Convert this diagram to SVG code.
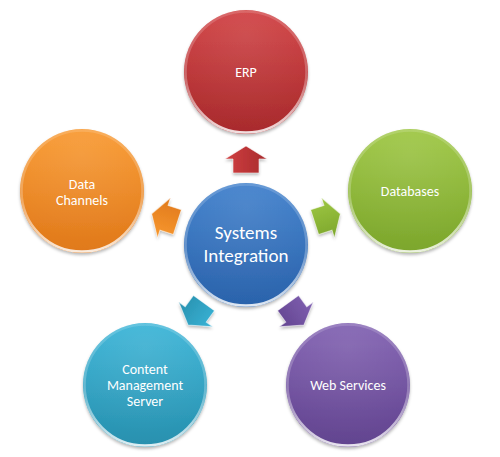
<svg xmlns="http://www.w3.org/2000/svg" xmlns:xlink="http://www.w3.org/1999/xlink" width="500" height="457" viewBox="0 0 500 457">
<style>
  .lbl { font-family: Carlito, Calibri, Lato, "Liberation Sans", sans-serif; fill: #ffffff; text-anchor: middle; font-size: 14px; }
  .big { font-size: 19px; }
  .rim { fill: none; stroke: url(#rimG); stroke-width: 2.5; }
  .gloss { fill: url(#glossG); }
  .arr-rim { fill: none; stroke: #ffffff; stroke-opacity: 0.55; stroke-width: 1; }
</style>
<defs>
  <filter id="sh" x="-20%" y="-20%" width="140%" height="140%">
    <feDropShadow dx="0" dy="2" stdDeviation="1.6" flood-color="#000" flood-opacity="0.28"/>
  </filter>
  <linearGradient id="rimG" x1="0" y1="0" x2="0" y2="1">
    <stop offset="0" stop-color="#fff" stop-opacity="0.15"/>
    <stop offset="0.55" stop-color="#fff" stop-opacity="0.25"/>
    <stop offset="1" stop-color="#fff" stop-opacity="0.85"/>
  </linearGradient>
  <radialGradient id="glossG" cx="0.5" cy="0.2" r="0.7">
    <stop offset="0" stop-color="#fff" stop-opacity="0.1"/>
    <stop offset="1" stop-color="#fff" stop-opacity="0"/>
  </radialGradient>
  <linearGradient id="gRed" x1="0" y1="0" x2="0" y2="1">
    <stop offset="0" stop-color="#d03f41"/><stop offset="1" stop-color="#a82b2d"/>
  </linearGradient>
  <linearGradient id="gBlue" x1="0" y1="0" x2="0" y2="1">
    <stop offset="0" stop-color="#3d7ecb"/><stop offset="1" stop-color="#2b63ab"/>
  </linearGradient>
  <linearGradient id="gGreen" x1="0" y1="0" x2="0" y2="1">
    <stop offset="0" stop-color="#9dc642"/><stop offset="1" stop-color="#7ca62c"/>
  </linearGradient>
  <linearGradient id="gOrange" x1="0" y1="0" x2="0" y2="1">
    <stop offset="0" stop-color="#f8982f"/><stop offset="1" stop-color="#e0791b"/>
  </linearGradient>
  <linearGradient id="gTeal" x1="0" y1="0" x2="0" y2="1">
    <stop offset="0" stop-color="#3ab4d7"/><stop offset="1" stop-color="#2890ae"/>
  </linearGradient>
  <linearGradient id="gPurple" x1="0" y1="0" x2="0" y2="1">
    <stop offset="0" stop-color="#8060b1"/><stop offset="1" stop-color="#62448f"/>
  </linearGradient>
  <path id="arrow" d="M -13.5,-13 L 0.5,-13 L 0.5,-21 L 13.5,0 L 0.5,21 L 0.5,13 L -13.5,13 Z"/>
</defs>

<g id="connectors">
  <g filter="url(#sh)">
    <use xlink:href="#arrow" transform="translate(246,159.5) rotate(-90)" fill="url(#gRed)"/>
    <use xlink:href="#arrow" transform="translate(327.5,218) rotate(-18)" fill="url(#gGreen)"/>
    <use xlink:href="#arrow" transform="translate(296,314) rotate(54)" fill="url(#gPurple)"/>
    <use xlink:href="#arrow" transform="translate(196,314) rotate(126)" fill="url(#gTeal)"/>
    <use xlink:href="#arrow" transform="translate(164.5,218) rotate(198)" fill="url(#gOrange)"/>
  </g>
  <use xlink:href="#arrow" class="arr-rim" transform="translate(246,159.5) rotate(-90)"/>
  <use xlink:href="#arrow" class="arr-rim" transform="translate(327.5,218) rotate(-18)"/>
  <use xlink:href="#arrow" class="arr-rim" transform="translate(296,314) rotate(54)"/>
  <use xlink:href="#arrow" class="arr-rim" transform="translate(196,314) rotate(126)"/>
  <use xlink:href="#arrow" class="arr-rim" transform="translate(164.5,218) rotate(198)"/>
</g>

<g id="node-center">
  <circle cx="246" cy="245" r="62" fill="url(#gBlue)" filter="url(#sh)"/>
  <circle cx="246" cy="245" r="62" class="gloss"/>
  <circle cx="246" cy="245" r="60.5" class="rim"/>
  <text class="lbl big" x="246" y="239">Systems</text>
  <text class="lbl big" x="246" y="262">Integration</text>
</g>

<g id="node-erp">
  <circle cx="246" cy="72" r="62" fill="url(#gRed)" filter="url(#sh)"/>
  <circle cx="246" cy="72" r="62" class="gloss"/>
  <circle cx="246" cy="72" r="60.5" class="rim"/>
  <text class="lbl" x="246" y="77">ERP</text>
</g>

<g id="node-databases">
  <circle cx="410" cy="191" r="62" fill="url(#gGreen)" filter="url(#sh)"/>
  <circle cx="410" cy="191" r="62" class="gloss"/>
  <circle cx="410" cy="191" r="60.5" class="rim"/>
  <text class="lbl" x="410" y="196">Databases</text>
</g>

<g id="node-webservices">
  <circle cx="348" cy="385" r="62" fill="url(#gPurple)" filter="url(#sh)"/>
  <circle cx="348" cy="385" r="62" class="gloss"/>
  <circle cx="348" cy="385" r="60.5" class="rim"/>
  <text class="lbl" x="348" y="390">Web Services</text>
</g>

<g id="node-cms">
  <circle cx="145" cy="385" r="62" fill="url(#gTeal)" filter="url(#sh)"/>
  <circle cx="145" cy="385" r="62" class="gloss"/>
  <circle cx="145" cy="385" r="60.5" class="rim"/>
  <text class="lbl" x="145" y="374">Content</text>
  <text class="lbl" x="145" y="390">Management</text>
  <text class="lbl" x="145" y="406">Server</text>
</g>

<g id="node-datachannels">
  <circle cx="82" cy="191" r="62" fill="url(#gOrange)" filter="url(#sh)"/>
  <circle cx="82" cy="191" r="62" class="gloss"/>
  <circle cx="82" cy="191" r="60.5" class="rim"/>
  <text class="lbl" x="82" y="189">Data</text>
  <text class="lbl" x="82" y="205">Channels</text>
</g>
</svg>
